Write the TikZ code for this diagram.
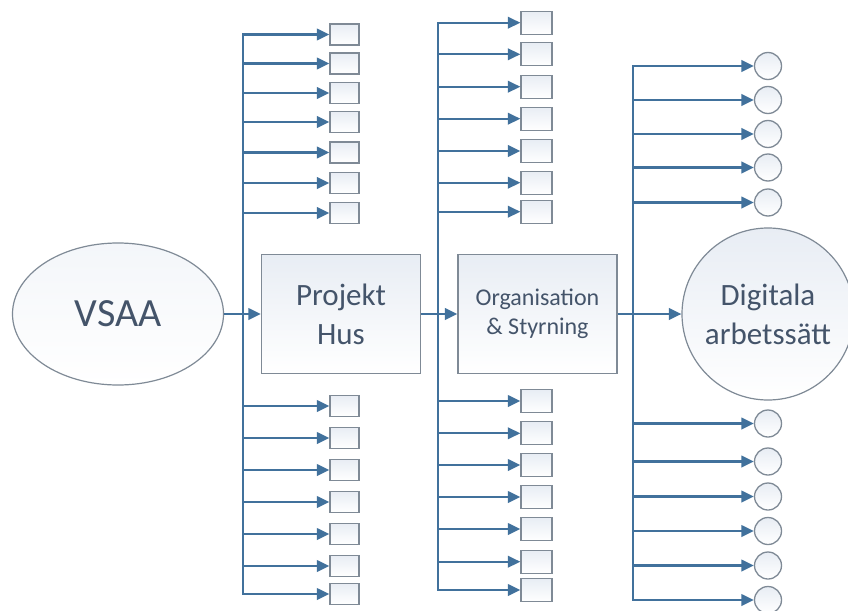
\documentclass[tikz,border=0pt]{standalone}
\usepackage{fontspec}
\setmainfont{Carlito}
\usetikzlibrary{arrows.meta,shapes.geometric}
\definecolor{lineblue}{HTML}{41719C}
\definecolor{boxgray}{HTML}{7F8A96}
\definecolor{txt}{HTML}{44546A}
\definecolor{fillblue}{HTML}{E8EDF4}
\begin{document}
\begin{tikzpicture}[x=1pt,y=-1pt,
  conn/.style={draw=lineblue, line width=2.2pt, -{Triangle[length=12.5pt,width=11.5pt]}},
  smallbox/.style={draw=boxgray, line width=1.3pt, top color=fillblue, bottom color=white, minimum width=29pt, minimum height=21pt, inner sep=0pt},
  midbox/.style={draw=boxgray, line width=1.3pt, top color=fillblue, bottom color=white, minimum width=31pt, minimum height=23pt, inner sep=0pt},
  smallcirc/.style={circle, draw=boxgray, line width=1.3pt, top color=fillblue, bottom color=white, minimum size=27pt, inner sep=0pt},
  bigbox/.style={draw=boxgray, line width=1.3pt, top color=fillblue, bottom color=white, minimum width=159pt, minimum height=119pt, inner sep=0pt, align=center, text=txt}
]
\useasboundingbox (0,0) rectangle (848,610);
\fill[white] (0,0) rectangle (848,610);

% main nodes
\node[ellipse, draw=boxgray, line width=1.2pt, top color=fillblue!50, bottom color=white, minimum width=211pt, minimum height=142pt, inner sep=0pt, text=txt, font=\fontsize{40}{48}\selectfont] (vsaa) at (118,314) {VSAA};
\node[bigbox, font=\fontsize{31}{39}\selectfont] (proj) at (341,314) {Projekt\\Hus};
\node[bigbox, font=\fontsize{24}{29}\selectfont] (org) at (537.5,314) {Organisation\\\& Styrning};
\node[circle, draw=boxgray, line width=1.2pt, top color=fillblue, bottom color=white, minimum size=172pt, inner sep=0pt, align=center, text=txt, font=\fontsize{31}{39}\selectfont] (dig) at (768,314) {Digitala\\arbetssätt};

% junctions
\coordinate (j1) at (243,314);
\coordinate (j2) at (438,314);
\coordinate (j3) at (633,314);

% column 1 boxes
\foreach \y [count=\i] in {34.5,63.5,93,122,152.5,183,213,406,438,470,502,534,566,594}
  \node[smallbox] (a\i) at (344.5,\y) {};
% column 2 boxes
\foreach \y [count=\i] in {22.7,54.3,86.7,118.7,151,182.7,211.7,401,433.3,465,497,529,561.7,590}
  \node[midbox] (b\i) at (536.5,\y) {};
% column 3 circles
\foreach \y [count=\i] in {66,100,134,167.5,202.5,423.5,461.5,496.5,531,565.5,600}
  \node[smallcirc] (c\i) at (768,\y) {};

% connectors
\foreach \i in {1,...,14} \draw[conn] (j1) |- (a\i.west);
\foreach \i in {1,...,14} \draw[conn] (j2) |- (b\i.west);
\foreach \i in {1,...,11} \draw[conn] (j3) |- (c\i.west);

\draw[conn] (vsaa.east) -- (proj.west);
\draw[conn] (proj.east) -- (org.west);
\draw[conn] (org.east) -- (dig.west);
\end{tikzpicture}
\end{document}
